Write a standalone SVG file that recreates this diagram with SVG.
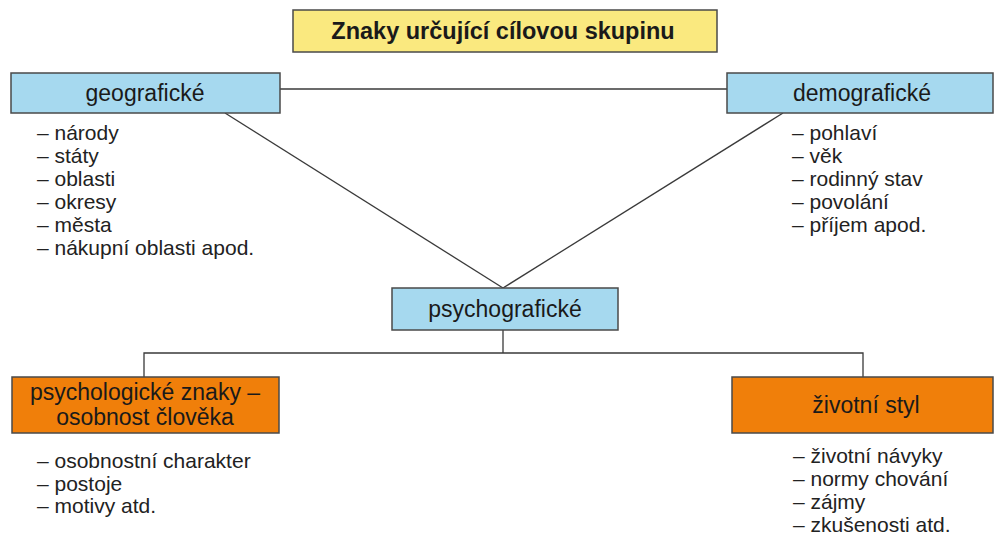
<svg xmlns="http://www.w3.org/2000/svg" width="995" height="535" viewBox="0 0 995 535">
<style>
.box{stroke:#4a4a4a;stroke-width:1.5}
.yel{fill:#fae97f}
.blue{fill:#a6d9ef}
.org{fill:#f07f0a}
.lbl{font-family:"Liberation Sans",Arial,sans-serif;font-size:23px;fill:#1a1a1a;text-anchor:middle}
.ttl{font-weight:bold;font-size:23.5px}
.lst{font-family:"Liberation Sans",Arial,sans-serif;font-size:21px;fill:#222}
.ln{stroke:#3a3a3a;stroke-width:1.3;fill:none}
</style>
<rect width="995" height="535" fill="#ffffff"/>
<g id="connectors">
<line class="ln" x1="280" y1="89" x2="727" y2="89"/>
<line class="ln" x1="225" y1="113" x2="503" y2="288"/>
<line class="ln" x1="783" y1="113" x2="503" y2="288"/>
<polyline class="ln" points="503,330 503,353"/>
<polyline class="ln" points="144,377 144,353 863,353 863,377"/>
</g>
<g id="title">
<rect class="box yel" x="293" y="10" width="424" height="42"/>
<text class="lbl ttl" x="503" y="39">Znaky určující cílovou skupinu</text>
</g>
<g id="geograficke">
<rect class="box blue" x="11" y="73" width="269" height="40"/>
<text class="lbl" x="145" y="101">geografické</text>
<text class="lst">
<tspan x="37" y="140">– národy</tspan>
<tspan x="37" y="163">– státy</tspan>
<tspan x="37" y="186">– oblasti</tspan>
<tspan x="37" y="209">– okresy</tspan>
<tspan x="37" y="232">– města</tspan>
<tspan x="37" y="255">– nákupní oblasti apod.</tspan>
</text>
</g>
<g id="demograficke">
<rect class="box blue" x="727" y="73" width="266" height="40"/>
<text class="lbl" x="862" y="101">demografické</text>
<text class="lst">
<tspan x="792" y="140">– pohlaví</tspan>
<tspan x="792" y="163">– věk</tspan>
<tspan x="792" y="186">– rodinný stav</tspan>
<tspan x="792" y="209">– povolání</tspan>
<tspan x="792" y="232">– příjem apod.</tspan>
</text>
</g>
<g id="psychograficke">
<rect class="box blue" x="392" y="288" width="226" height="42"/>
<text class="lbl" x="505" y="317">psychografické</text>
</g>
<g id="psychologicke">
<rect class="box org" x="12" y="377" width="267" height="56"/>
<text class="lbl" x="145" y="400">psychologické znaky –</text>
<text class="lbl" x="145" y="425">osobnost člověka</text>
<text class="lst">
<tspan x="37" y="468">– osobnostní charakter</tspan>
<tspan x="37" y="491">– postoje</tspan>
<tspan x="37" y="513">– motivy atd.</tspan>
</text>
</g>
<g id="zivotni">
<rect class="box org" x="732" y="377" width="261" height="56"/>
<text class="lbl" x="866" y="413">životní styl</text>
<text class="lst">
<tspan x="793" y="463">– životní návyky</tspan>
<tspan x="793" y="486">– normy chování</tspan>
<tspan x="793" y="509">– zájmy</tspan>
<tspan x="793" y="532">– zkušenosti atd.</tspan>
</text>
</g>
</svg>
